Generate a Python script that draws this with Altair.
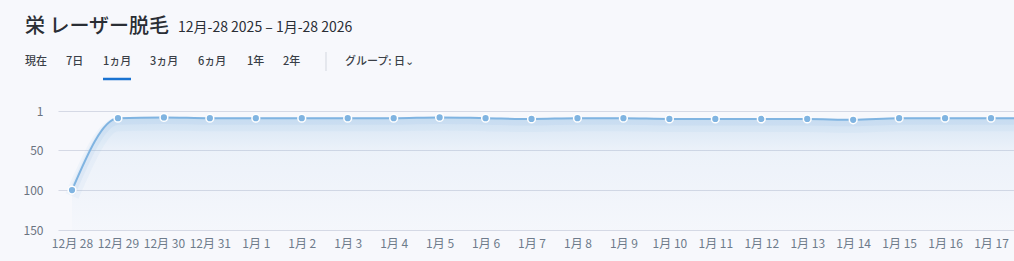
import altair as alt
import pandas as pd

# ---- data ----
dates = ["12月 28", "12月 29", "12月 30", "12月 31", "1月 1", "1月 2", "1月 3", "1月 4",
         "1月 5", "1月 6", "1月 7", "1月 8", "1月 9", "1月 10", "1月 11", "1月 12",
         "1月 13", "1月 14", "1月 15", "1月 16", "1月 17", "1月 18"]
ranks = [100, 10, 9, 10, 10, 10, 10, 10, 9, 10, 11, 10, 10, 11, 11, 11, 11, 12, 10, 10, 10, 10]
y_ticks = [1, 50, 100, 150]
tabs = ["現在", "7日", "1ヵ月", "3ヵ月", "6ヵ月", "1年", "2年"]
title_text = "栄 レーザー脱毛"
subtitle_text = "12月-28 2025 – 1月-28 2026"
group_text = "グループ: 日⌄"

df = pd.DataFrame({"i": list(range(len(dates))), "rank": ranks, "label": dates})

FONT = "Noto Sans CJK JP"
LINE = "#80b4e1"
BG = "#f7f8fc"

label_expr = "[" + ",".join("'" + d + "'" for d in dates) + "][datum.value]"

x_enc = alt.X("i:Q",
              scale=alt.Scale(domain=[-0.305, 20.5], nice=False, zero=False),
              axis=alt.Axis(values=list(range(len(dates))), labelExpr=label_expr,
                            grid=False, domain=False, ticks=False, title=None,
                            labelFont=FONT, labelFontSize=12, labelColor="#6e7b8b",
                            labelPadding=8, labelFlush=False, labelOverlap=False))
y_enc = alt.Y("rank:Q",
              scale=alt.Scale(domain=[1, 150], reverse=True, nice=False, zero=False),
              axis=alt.Axis(values=y_ticks, grid=True, gridColor="#d5d9e5", gridWidth=1,
                            domain=False, ticks=False, title=None, labelOverlap=False,
                            labelFont=FONT, labelFontSize=12, labelColor="#6b7380",
                            labelPadding=15))

base = alt.Chart(df)

area = base.mark_area(
    clip=True, interpolate="monotone",
    fill=alt.Gradient(gradient="linear", x1=0, y1=0, x2=0, y2=1,
                      stops=[alt.GradientStop(offset=0, color="rgba(128,180,225,0.28)"),
                             alt.GradientStop(offset=0.3, color="rgba(128,180,225,0.09)"),
                             alt.GradientStop(offset=1, color="rgba(128,180,225,0.02)")])
).encode(x=x_enc, y=y_enc, y2=alt.datum(150))

glow = base.mark_line(clip=True, interpolate="monotone", color=LINE, strokeWidth=14,
                      opacity=0.07, yOffset=6).encode(x=x_enc, y=y_enc)
glow2 = base.mark_line(clip=True, interpolate="monotone", color=LINE, strokeWidth=7,
                       opacity=0.10, yOffset=3).encode(x=x_enc, y=y_enc)

line = base.mark_line(clip=True, interpolate="monotone", color=LINE,
                      strokeWidth=2).encode(x=x_enc, y=y_enc)

pts = base.mark_point(clip=True, filled=True, color=LINE, size=60, opacity=1,
                      stroke="white", strokeWidth=1.5, strokeOpacity=1).encode(x=x_enc, y=y_enc)

OX, OY = 58, 111  # plot origin in page coords (layout only)
one = pd.DataFrame({"a": [0]})


def txt(s, x, y, size, color, weight="normal", baseline="alphabetic"):
    return alt.Chart(pd.DataFrame({"t": [s]})).mark_text(
        align="left", baseline=baseline, font=FONT, fontSize=size,
        fontWeight=weight, color=color
    ).encode(x=alt.value(x - OX), y=alt.value(y - OY), text="t:N")


layers = [area, glow, glow2, line, pts]
layers.append(txt(title_text, 25, 33, 20, "#2a2e35", 500))
layers.append(txt(subtitle_text, 178, 32, 14, "#2a2e35"))
tab_x = [25, 66, 103, 150, 198, 247, 283]
for s, xx in zip(tabs, tab_x):
    layers.append(txt(s, xx, 62, 11, "#3a3f47", 500, "middle"))
layers.append(txt(group_text, 345, 62, 11, "#3a3f47", 500, "middle"))

underline = alt.Chart(one).mark_rule(color="#1a73d1", strokeWidth=2.5).encode(
    x=alt.value(103 - OX), x2=alt.value(131 - OX), y=alt.value(79 - OY))
sep = alt.Chart(one).mark_rule(color="#d3d7df", strokeWidth=1).encode(
    x=alt.value(326 - OX), y=alt.value(52 - OY), y2=alt.value(71 - OY))
layers += [underline, sep]

chart = alt.layer(*layers).properties(
    width=1014 - OX, height=230 - OY,
    autosize=alt.AutoSizeParams(type="none"),
    padding={"left": OX, "top": OY, "right": 0, "bottom": 261 - 230},
    background=BG
).configure_view(stroke=None)

chart.save("out.html", embed_options={"renderer": "svg", "actions": False})
